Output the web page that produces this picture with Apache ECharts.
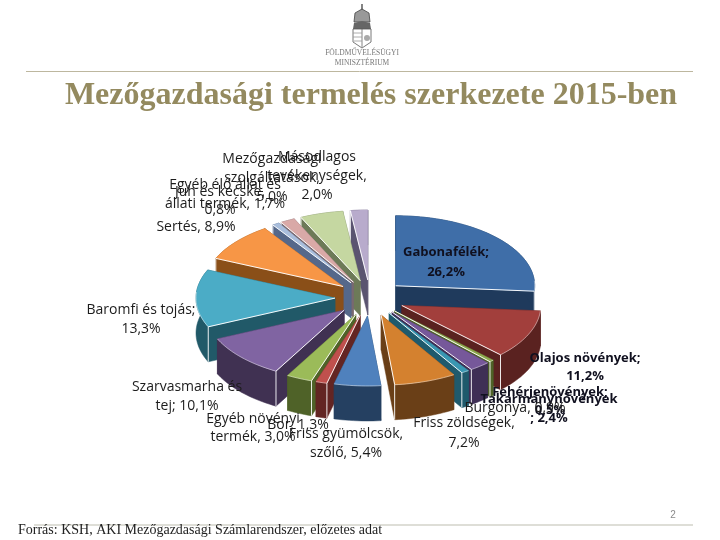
<!DOCTYPE html>
<html><head><meta charset="utf-8">
<style>html,body{margin:0;padding:0;background:#fff}#c{width:720px;height:540px}</style>
<script src="https://cdn.jsdelivr.net/npm/echarts@6/dist/echarts.min.js"></script>
</head><body><div id="c"></div>
<script>
const categories = ['Gabonafélék','Olajos növények','Fehérjenövények','Takarmánynövények','Burgonya','Friss zöldségek','Friss gyümölcsök, szőlő','Bor','Egyéb növényi termék','Szarvasmarha és tej','Baromfi és tojás','Sertés','Juh és kecske','Egyéb élő állat és állati termék','Mezőgazdasági szolgáltatások','Másodlagos tevékenységek'];
const values = [26.2,11.2,0.5,2.4,0.9,7.2,5.4,1.3,3.0,10.1,13.3,8.9,0.8,1.7,5.0,2.0];
const colors = ['#3F6EA8','#A23F3C','#8FA84E','#76589A','#3A97B2','#D4812F','#4F81BD','#C0504D','#9BBB59','#8064A2','#4BACC6','#F79646','#A9BEDC','#D9A9A7','#C5D7A1','#B8ABCC'];
const sideColors = ['#1F3A5C','#5A2220','#4F6228','#3F2F55','#1F5A6C','#6A3F17','#254061','#632523','#4F6228','#403152','#215968','#8A4F18','#55688A','#7A6A70','#6D7A58','#5A5470'];
const labelLines = [
 ['Gabonafélék;','26,2%'],['Olajos növények;','11,2%'],['Fehérjenövények;','0,5%'],['Takarmánynövények','; 2,4%'],
 ['Burgonya, 0,9%'],['Friss zöldségek,','7,2%'],['Friss gyümölcsök,','szőlő, 5,4%'],['Bor, 1,3%'],['Egyéb növényi','termék, 3,0%'],
 ['Szarvasmarha és','tej; 10,1%'],['Baromfi és tojás;','13,3%'],['Sertés, 8,9%'],['Juh és kecske,','0,8%'],
 ['Egyéb élő állat és','állati termék, 1,7%'],['Mezőgazdasági','szolgáltatások,','5,0%'],['Másodlagos','tevékenységek,','2,0%']];
const boldLabels = ['Gabonafélék','Olajos növények','Fehérjenövények','Takarmánynövények'];
const titleText = 'Mezőgazdasági termelés szerkezete 2015-ben';
const sourceText = 'Forrás: KSH, AKI Mezőgazdasági Számlarendszer, előzetes adat';

// --- layout of the exploded 3-D pie
const CX=370, CY=298, RX=139, RY=70, DEPTH=35, EX=35, EY=18;
const total = values.reduce((a,b)=>a+b,0);
let acc=0;
const spans = values.map(v=>{const s=acc/total*2*Math.PI; acc+=v; return [s,acc/total*2*Math.PI];});
const order = values.map((_,i)=>i).sort((a,b)=>{
  const d=i=>Math.abs((spans[i][0]+spans[i][1])/2-Math.PI);
  return d(b)-d(a);
});
function sliceRender(params, api){
  const i = api.value(1), s=spans[i][0], e=spans[i][1], m=(s+e)/2;
  const ax=CX+EX*Math.sin(m), ay=CY-EY*Math.cos(m);
  const pt=(t,dz)=>[ax+RX*Math.sin(t), ay-RY*Math.cos(t)+(dz||0)];
  const n=Math.max(2,Math.ceil((e-s)/0.03));
  const arc=[],arcB=[];
  for(let k=0;k<=n;k++){const t=s+(e-s)*k/n; arc.push(pt(t)); arcB.push(pt(t,DEPTH));}
  const base=[ax,ay], baseB=[ax,ay+DEPTH];
  const kids=[];
  const poly=(points,fill,stroke)=>kids.push({type:'polygon',shape:{points},style:{fill,stroke:stroke||fill,lineWidth:0.5}});
  const line=(points,op,w)=>kids.push({type:'polyline',shape:{points},style:{fill:null,stroke:'#fff',lineWidth:w||1,opacity:op}});
  const side=sideColors[i];
  poly([base,baseB,pt(s,DEPTH),pt(s)],side);
  poly([base,baseB,pt(e,DEPTH),pt(e)],side);
  poly(arc.concat(arcB.slice().reverse()),side);
  poly([base].concat(arc),colors[i]);
  // highlight edges on the faces turned toward the viewer
  const front=arc.filter((_,k)=>Math.cos(s+(e-s)*k/n)<0.1);
  if(front.length>1) line(front,0.55,0.8);
  if(Math.sin(s)<0){ line([base,pt(s)],0.95,1); line([pt(s),pt(s,DEPTH)],0.9,1); }
  if(Math.sin(e)>0){ line([base,pt(e)],0.95,1); if(Math.cos(e)<0.2) line([pt(e),pt(e,DEPTH)],0.9,1); }
  return {type:'group',children:kids};
}
// label anchors: [centre x, first line y, line height]
const labelPos = [[446,252,20],[585,358,18],[550,392,18],[549,399,19],[515,408,18],[464,423,20],[346,434,19],[298,425,18],[253,419,18],
  [187,387,19],[141,310,19],[196,227,18],[220,192,18],[225,185,19],[272,159,19],[317,157,19]];
const graphics=[];
const txt=(text,x,y,o)=>graphics.push({type:'text',x,y,z:o.z||10,style:Object.assign({text,textAlign:'center',textVerticalAlign:'middle',fontFamily:'"Open Sans"',fontSize:14,fill:'#222'},o.style||{})});
labelLines.forEach((ls,i)=>{
  const [x,y,h]=labelPos[i], b=boldLabels.includes(categories[i]);
  ls.forEach((t,k)=>txt(t,x,y+k*h,{style:{fontWeight:b?'bold':'normal',fill:b?'#10101f':'#1c1c1c',fontSize:b?13:14}}));
});
// page furniture
txt(titleText,371,96,{style:{fontFamily:'"Liberation Serif"',fontWeight:'bold',fontSize:32,fill:'#948A5F'}});
graphics.push({type:'line',shape:{x1:26,y1:71.5,x2:693,y2:71.5},style:{stroke:'#BDB79F',lineWidth:1}});
graphics.push({type:'line',shape:{x1:34,y1:525,x2:693,y2:525},style:{stroke:'#BDBDAF',lineWidth:1}});
txt('2',673,515,{style:{fontFamily:'"Liberation Sans"',fontSize:10,fill:'#8a8a8a'}});
graphics.push({type:'text',x:18,y:530,z:10,style:{text:sourceText,textAlign:'left',textVerticalAlign:'middle',fontFamily:'"Liberation Serif"',fontSize:14,fill:'#222'}});
txt('FÖLDMŰVELÉSÜGYI',362,53,{style:{fontFamily:'"Liberation Serif"',fontSize:7.5,fill:'#777'}});
txt('MINISZTÉRIUM',362,63,{style:{fontFamily:'"Liberation Serif"',fontSize:7.5,fill:'#777'}});
// emblem
const stroke={stroke:'#555',lineWidth:0.8,fill:'#fff'};
graphics.push({type:'group',x:2,children:[
  {type:'line',shape:{x1:360,y1:4,x2:360,y2:10},style:{stroke:'#333',lineWidth:1.2}},
  {type:'polygon',shape:{points:[[352,22],[353,13],[360,9],[367,13],[368,22]]},style:{fill:'#999',stroke:'#444',lineWidth:0.8}},
  {type:'polygon',shape:{points:[[352,23],[360,21],[368,23],[369,29],[351,29]]},style:{fill:'#666'}},
  {type:'polygon',shape:{points:[[351,29],[369,29],[369,42],[360,48],[351,42]]},style:stroke},
  {type:'line',shape:{x1:360,y1:29,x2:360,y2:47},style:{stroke:'#666',lineWidth:0.8}},
  {type:'line',shape:{x1:351,y1:33,x2:360,y2:33},style:{stroke:'#999',lineWidth:0.8}},
  {type:'line',shape:{x1:351,y1:37,x2:360,y2:37},style:{stroke:'#999',lineWidth:0.8}},
  {type:'line',shape:{x1:352,y1:41,x2:360,y2:41},style:{stroke:'#999',lineWidth:0.8}},
  {type:'circle',shape:{cx:365,cy:38,r:3},style:{fill:'#aaa'}}
]});
const chart=echarts.init(document.getElementById('c'),null,{renderer:'canvas'});
chart.setOption({
  animation:false,
  backgroundColor:'#fff',
  graphic:graphics,
  series:[{type:'custom',coordinateSystem:'none',renderItem:sliceRender,silent:true,
    data:order.map(i=>({name:categories[i],value:[values[i],i]}))}]
});
</script></body></html>
